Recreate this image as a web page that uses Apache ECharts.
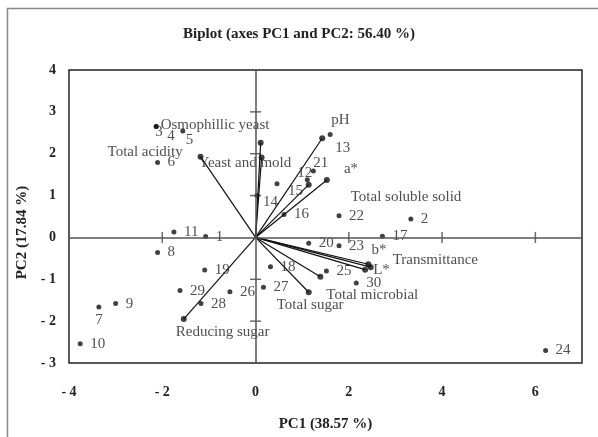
<!DOCTYPE html>
<html><head><meta charset="utf-8">
<script src="https://cdn.jsdelivr.net/npm/echarts@6/dist/echarts.min.js"></script>
<style>html,body{margin:0;padding:0;background:#fff}#c{width:598px;height:437px}</style>
</head><body><div id="c"></div>
<script>
// ---- data ----
const obsLabels = ['1','2','3','4','5','6','7','8','9','10','11','12','13','14','15','16','17','18','19','20','21','22','23','24','25','26','27','28','29','30'];
const obsPC1 = [-1.07, 3.33, -2.13, -2.13, -1.56, -2.10, -3.36, -2.10, -3.00, -3.76, -1.75, 1.11, 1.60, 0.03, 0.46, 0.61, 2.72, 0.32, -1.09, 1.14, 1.24, 1.79, 1.79, 6.22, 1.52, -0.55, 0.17, -1.17, -1.62, 2.16];
const obsPC2 = [0.02, 0.44, 2.65, 2.65, 2.54, 1.79, -1.66, -0.36, -1.58, -2.54, 0.13, 1.38, 2.46, 1.00, 1.28, 0.55, 0.03, -0.70, -0.78, -0.14, 1.59, 0.52, -0.20, -2.70, -0.80, -1.30, -1.19, -1.58, -1.27, -1.09];
const varNames = ['Total acidity','Osmophillic yeast','Yeast and mold','pH','Total soluble solid','a*','b*','Transmittance','L*','Total microbial','Total sugar','Reducing sugar'];
const varPC1 = [-1.18, 0.11, 0.13, 1.43, 1.14, 1.53, 2.42, 2.47, 2.35, 1.39, 1.14, -1.54];
const varPC2 = [1.93, 2.26, 1.91, 2.37, 1.26, 1.37, -0.64, -0.71, -0.77, -0.94, -1.31, -1.95];
const xTickValues = [-2, 2, 4, 6];
const yTickValues = [-2, -1, 1, 2, 3];

// ---- label placement (style) ----
const obsLabelOffset = {
  '3': [-1, 6], '4': [11, 10], '5': [3, 9], '7': [-3.5, 13],
  '12': [-10, -7], '13': [5, 14], '21': [0, -8], '15': [11, 7], '14': [6, 6]
};
const varLabelOffset = {
  'Total acidity': [-93, -5], 'Osmophillic yeast': [-100, -18], 'Yeast and mold': [-63, 6],
  'pH': [9, -18], 'Total soluble solid': [42, 12], 'a*': [17, -11], 'b*': [3, -14],
  'Transmittance': [22, -7], 'L*': [8, 0], 'Total microbial': [6, 18],
  'Total sugar': [-32, 13], 'Reducing sugar': [-8, 13]
};

const FONT = 'Liberation Serif';
const TXT = '#222';

const obsData = obsLabels.map((n, i) => ({
  value: [obsPC1[i], obsPC2[i]], name: n,
  label: { offset: obsLabelOffset[n] || [10, 0] }
}));
const varData = varNames.map((n, i) => ({
  value: [varPC1[i], varPC2[i]], name: n,
  label: { offset: varLabelOffset[n] || [8, 0] }
}));
const vecLines = varNames.map((n, i) => ({ coords: [[0, 0], [varPC1[i], varPC2[i]]] }));
const tickMarks = xTickValues.map(v => ({ value: [v, 0], symbolSize: [1.5, 11] }))
  .concat(yTickValues.map(v => ({ value: [0, v], symbolSize: [11, 1.5] })));

const negFmt = v => (v < 0 ? '- ' + Math.abs(v) : String(v));

const chart = echarts.init(document.getElementById('c'), null, { renderer: 'canvas' });
chart.setOption({
  animation: false,
  backgroundColor: '#fff',
  title: {
    text: 'Biplot (axes PC1 and PC2: 56.40 %)', left: 'center', top: 22,
    textStyle: { fontFamily: FONT, fontWeight: 'bold', fontSize: 15, color: TXT }
  },
  graphic: [{
    type: 'polyline', silent: true,
    shape: { points: [[7.5, 437], [7.5, 8.5], [598, 8.5]] },
    style: { stroke: '#888', lineWidth: 1.5, fill: null }
  }],
  grid: { left: 69, right: 16, top: 70, bottom: 69, show: true, borderColor: '#222', borderWidth: 1.5, backgroundColor: 'transparent' },
  xAxis: {
    type: 'value', min: -4, max: 7, interval: 2,
    name: 'PC1 (38.57 %)', nameLocation: 'middle', nameGap: 54,
    nameTextStyle: { fontFamily: FONT, fontWeight: 'bold', fontSize: 15, color: TXT },
    axisLine: { show: false }, axisTick: { show: false }, splitLine: { show: false },
    axisLabel: { showMaxLabel: false, margin: 22, formatter: negFmt, fontFamily: FONT, fontWeight: 'bold', fontSize: 14, color: TXT }
  },
  yAxis: {
    type: 'value', min: -3, max: 4, interval: 1,
    name: 'PC2 (17.84 %)', nameLocation: 'middle', nameGap: 37, nameRotate: 90,
    nameTextStyle: { fontFamily: FONT, fontWeight: 'bold', fontSize: 15, color: TXT, padding: [0, 32, 0, 0] },
    axisLine: { show: false }, axisTick: { show: false }, splitLine: { show: false },
    axisLabel: { margin: 13, formatter: negFmt, fontFamily: FONT, fontWeight: 'bold', fontSize: 14, color: TXT }
  },
  series: [
    {
      type: 'scatter', name: 'ticks', data: tickMarks, symbol: 'rect', silent: true,
      itemStyle: { color: '#444' }, z: 2,
      markLine: {
        silent: true, symbol: 'none', animation: false,
        label: { show: false },
        lineStyle: { color: '#555', width: 1.5, type: 'solid' },
        data: [{ xAxis: 0 }, { yAxis: 0 }]
      }
    },
    {
      type: 'lines', coordinateSystem: 'cartesian2d', data: vecLines, silent: true,
      lineStyle: { color: '#111', width: 1.2, opacity: 1 }, z: 3
    },
    {
      type: 'scatter', name: 'variables', data: varData, symbol: 'circle', symbolSize: 6,
      itemStyle: { color: '#111' }, z: 4,
      label: { show: true, formatter: '{b}', position: 'inside', align: 'left', verticalAlign: 'middle',
        fontFamily: FONT, fontSize: 15, color: TXT }
    },
    {
      type: 'scatter', name: 'observations', data: obsData, symbol: 'circle', symbolSize: 5,
      itemStyle: { color: '#111' }, z: 4,
      label: { show: true, formatter: '{b}', position: 'inside', align: 'left', verticalAlign: 'middle',
        fontFamily: FONT, fontSize: 15, color: TXT }
    }
  ]
});
</script>
</body></html>
